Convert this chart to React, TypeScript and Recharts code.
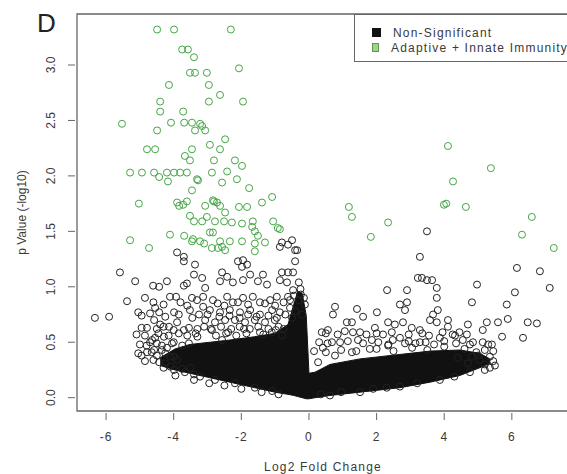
import React from 'react';
import { ComposedChart, Scatter, Area, XAxis, YAxis, ReferenceArea, Legend } from 'recharts';

// [log2 fold change, -log10 p]
const immuneLeft: [number, number][] = [
  [-4.49, 3.32], [-3.99, 3.32], [-2.31, 3.32], [-3.75, 3.14], [-3.58, 3.14], [-3.4, 3.07], [-3.52, 2.93],
  [-3.37, 2.93], [-3.02, 2.93], [-2.07, 2.97], [-4.14, 2.82], [-2.96, 2.82], [-2.63, 2.73], [-4.4, 2.67],
  [-2.96, 2.67], [-1.95, 2.67], [-4.4, 2.58], [-3.72, 2.58], [-5.53, 2.47], [-4.49, 2.41], [-4.08, 2.48],
  [-3.69, 2.48], [-3.46, 2.48], [-3.22, 2.47], [-3.37, 2.41], [-3.07, 2.41], [-3.16, 2.45], [-2.48, 2.33],
  [-2.93, 2.28], [-2.63, 2.24], [-4.79, 2.24], [-4.55, 2.24], [-3.46, 2.24], [-3.67, 2.18], [-3.52, 2.14],
  [-2.81, 2.14], [-2.19, 2.14], [-1.98, 2.09], [-5.29, 2.03], [-4.94, 2.03], [-4.58, 2.03], [-4.43, 1.99],
  [-4.2, 2.03], [-3.99, 2.03], [-3.81, 2.03], [-3.61, 2.03], [-4.17, 1.95], [-3.31, 1.97], [-2.87, 2.03],
  [-2.42, 2.04], [-2.13, 1.97], [-2.57, 1.94], [-1.77, 1.89], [-3.46, 1.87], [-5.03, 1.75], [-3.84, 1.73],
  [-3.61, 1.77], [-3.07, 1.73], [-2.81, 1.77], [-2.63, 1.73], [-2.07, 1.72], [-2.84, 1.78], [-2.72, 1.76],
  [-1.83, 1.72], [-1.39, 1.76], [-1.09, 1.81], [-3.52, 1.64], [-2.48, 1.67], [-3.02, 1.63], [-3.4, 1.59],
  [-3.16, 1.59], [-2.78, 1.59], [-2.51, 1.59], [-2.28, 1.58], [-1.98, 1.57], [-1.66, 1.59], [-1.06, 1.59],
  [-0.86, 1.52], [-1.68, 1.54], [-1.6, 1.5], [-5.29, 1.42], [-4.73, 1.35], [-4.11, 1.47], [-3.69, 1.46],
  [-3.46, 1.41], [-2.93, 1.49], [-3.1, 1.39], [-2.63, 1.41], [-2.57, 1.36], [-2.34, 1.41], [-1.98, 1.41],
  [-1.51, 1.46], [-1.6, 1.39], [-2.87, 1.35], [-2.69, 1.35], [-2.48, 1.33], [-1.3, 1.4], [-1.6, 1.32],
  [-3.9, 1.76], [-3.72, 1.74], [-3.22, 1.41], [-3.43, 1.43], [-2.84, 1.49], [-0.92, 1.53], [-3.28, 1.96],
];

const immuneRight: [number, number][] = [
  [4.11, 2.27], [5.38, 2.07], [4.26, 1.95], [3.99, 1.74], [4.06, 1.75], [4.64, 1.72], [1.18, 1.72],
  [1.27, 1.63], [2.34, 1.58], [1.83, 1.45], [6.59, 1.63], [6.3, 1.47], [7.24, 1.35],
];

const nsLeft: [number, number][] = [
  [-5.59, 1.13], [-5.14, 1.05], [-4.61, 1.01], [-4.43, 1.0], [-4.2, 1.05], [-3.7, 1.01], [-3.61, 1.03],
  [-5.38, 0.87], [-4.85, 0.9], [-4.11, 0.91], [-3.93, 0.91], [-3.46, 0.9], [-3.31, 0.88], [-3.4, 1.11],
  [-3.37, 1.2], [-3.7, 1.27], [-3.7, 1.23], [-3.9, 1.31], [-6.33, 0.72], [-5.91, 0.73], [-5.05, 0.77],
  [-4.55, 0.81], [-4.43, 0.77], [-3.99, 0.77], [-3.52, 0.79], [-3.25, 0.75], [-4.58, 0.7], [-4.4, 0.66],
  [-4.14, 0.64], [-3.9, 0.68], [-3.7, 0.61], [-4.55, 0.54], [-4.29, 0.55], [-4.7, 0.5], [-4.58, 0.43],
  [-4.79, 0.41], [-4.35, 0.43], [-4.2, 0.45], [-4.43, 0.32], [-3.99, 0.37], [-3.9, 0.34], [-3.99, 0.25],
  [-3.4, 0.21], [-4.79, 0.63], [-4.64, 0.52],
  [-3.16, 1.08], [-3.07, 0.99], [-2.63, 1.05], [-2.42, 1.09], [-2.25, 1.04], [-1.95, 1.06], [-1.74, 1.11],
  [-1.51, 1.05], [-1.36, 1.11], [-1.24, 1.02], [-0.86, 1.06], [-0.65, 1.04], [-0.8, 1.13], [-0.62, 1.13],
  [-0.41, 1.23], [-0.47, 1.13], [-0.8, 1.4], [-0.62, 1.38], [-0.5, 1.42], [-0.35, 1.33], [-2.1, 1.23],
  [-1.95, 1.24], [-1.98, 1.18], [-1.83, 1.2], [-2.57, 1.13], [-3.13, 0.91], [-2.84, 0.88], [-2.42, 0.91],
  [-2.25, 0.86], [-1.95, 0.9], [-1.66, 0.91], [-1.45, 0.86], [-1.15, 0.88], [-0.95, 0.91], [-0.62, 0.91],
  [-2.93, 0.79], [-2.63, 0.77], [-2.34, 0.79], [-2.04, 0.77], [-1.74, 0.79], [-1.45, 0.75], [-1.09, 0.79],
  [-0.86, 0.77], [-0.56, 0.81], [-3.07, 0.7], [-2.78, 0.68], [-2.48, 0.7], [-2.19, 0.7], [-1.89, 0.68],
  [-1.6, 0.7], [-1.3, 0.68], [-1.01, 0.7], [-3.13, 0.82], [-0.86, 1.36], [-0.41, 1.33],
];

const nsRight: [number, number][] = [
  [2.31, 0.97], [2.9, 0.97], [3.34, 1.08], [3.49, 1.06], [3.78, 0.99], [3.28, 1.27], [3.49, 1.5],
  [3.22, 1.08], [3.64, 1.06], [0.77, 0.82], [0.71, 0.75], [1.42, 0.8], [1.6, 0.73], [2.01, 0.77],
  [2.69, 0.84], [2.9, 0.86], [2.84, 0.79], [1.12, 0.68], [1.27, 0.68], [0.38, 0.59], [0.56, 0.61],
  [1.06, 0.6], [1.51, 0.59], [1.95, 0.63], [2.34, 0.68], [2.54, 0.66], [2.19, 0.57], [2.78, 0.68],
  [3.04, 0.63], [3.28, 0.61], [3.67, 0.75], [3.78, 0.68], [2.48, 0.52], [2.69, 0.54], [0.41, 0.45],
  [0.68, 0.5], [0.92, 0.5], [1.86, 0.52], [1.45, 0.52], [6.15, 1.17], [6.83, 1.14], [7.12, 0.99],
  [4.97, 1.02], [6.09, 0.95], [4.82, 0.86], [5.85, 0.84], [3.78, 0.9], [3.81, 0.79], [5.88, 0.71],
  [6.47, 0.68], [6.74, 0.67], [5.59, 0.68], [5.26, 0.68], [5.14, 0.61], [4.7, 0.66], [4.11, 0.7],
  [3.58, 0.7], [5.71, 0.55], [6.33, 0.54], [5.41, 0.48], [5.14, 0.5], [4.67, 0.57], [4.55, 0.52],
  [4.11, 0.64], [5.2, 0.43], [4.82, 0.37], [5.05, 0.34], [5.2, 0.3],
];

// crowded band of overlapping circles just around the solid mass
const nsBand: [number, number][] = [
  [-4.6, 0.86], [-4.3, 0.84], [-3.8, 0.86], [-3.6, 0.83], [-2.7, 0.85], [-2.5, 0.83], [-2.1, 0.86],
  [-1.8, 0.84], [-1.3, 0.85], [-1.0, 0.83], [-0.75, 0.86],
  [-4.95, 0.74], [-4.7, 0.76], [-4.25, 0.73], [-3.85, 0.75], [-3.45, 0.72], [-3.0, 0.75], [-2.65, 0.73],
  [-2.35, 0.74], [-2.05, 0.72], [-1.8, 0.75], [-1.55, 0.73], [-1.2, 0.74], [-0.95, 0.72], [-0.7, 0.75],
  [-4.95, 0.63], [-4.5, 0.62], [-4.3, 0.64], [-4.0, 0.61], [-3.55, 0.63], [-3.3, 0.62], [-3.1, 0.64],
  [-2.9, 0.62], [-2.6, 0.64], [-2.3, 0.62], [-2.05, 0.64], [-1.75, 0.62], [-1.5, 0.64], [-1.2, 0.62],
  [-0.9, 0.64], [-0.75, 0.62],
  [-5.1, 0.57], [-4.85, 0.56], [-4.45, 0.58], [-4.15, 0.56], [-3.85, 0.58], [-3.6, 0.56], [-3.35, 0.58],
  [-2.75, 0.56], [-2.45, 0.58], [-2.15, 0.56], [-1.85, 0.58], [-1.35, 0.57], [-1.1, 0.59], [-0.8, 0.56],
  [-5.0, 0.48], [-4.8, 0.47], [-4.5, 0.49], [-4.35, 0.47], [-4.05, 0.49], [-3.75, 0.47], [-3.55, 0.49],
  [-5.05, 0.4], [-4.95, 0.38], [-4.65, 0.41], [-4.5, 0.38], [-4.25, 0.4], [-4.1, 0.37],
  [-4.85, 0.33], [-4.6, 0.34], [-4.25, 0.31], [-4.3, 0.27], [-4.1, 0.28], [-3.75, 0.26], [-3.5, 0.27],
  [-3.95, 0.2], [-3.4, 0.16], [-2.95, 0.13], [-2.5, 0.11], [-2.0, 0.08], [-1.4, 0.05], [-0.9, 0.03],
  [-0.25, 0.98], [-0.15, 0.9], [-0.3, 0.88], [-0.4, 0.78], [-0.5, 0.72], [-0.2, 0.75], [-0.45, 0.92],
  [0.5, 0.58], [0.85, 0.57], [1.3, 0.59], [1.7, 0.57], [2.0, 0.58], [2.45, 0.59], [2.95, 0.57],
  [3.35, 0.58], [3.55, 0.56], [3.95, 0.59], [4.25, 0.57], [4.45, 0.59],
  [0.3, 0.5], [0.55, 0.49], [1.15, 0.51], [1.6, 0.49], [2.05, 0.5], [2.35, 0.48], [2.95, 0.51],
  [3.15, 0.49], [3.45, 0.5], [3.7, 0.48], [4.0, 0.51], [4.35, 0.49], [4.85, 0.5], [5.3, 0.48],
  [0.15, 0.42], [0.5, 0.41], [0.95, 0.43], [1.4, 0.42], [2.0, 0.44], [2.5, 0.42], [3.05, 0.45],
  [3.5, 0.43], [4.0, 0.46], [4.6, 0.44], [4.95, 0.41], [5.45, 0.42],
  [0.35, 0.03], [0.95, 0.05], [1.9, 0.08], [2.3, 0.09], [3.2, 0.13], [4.3, 0.19], [5.2, 0.25], [5.45, 0.33],
  [4.4, 0.36], [4.7, 0.31], [5.0, 0.38], [5.35, 0.27],
];

// circles sitting on the rim of the saturated core
const nsRim: [number, number][] = [
  [-3.67, 0.23], [-3.22, 0.19], [-2.78, 0.16], [-2.19, 0.13], [-1.6, 0.09], [-1.09, 0.06],
  [-2.87, 0.61], [-2.39, 0.59], [-1.92, 0.62], [-1.45, 0.59], [-0.98, 0.61], [-2.57, 0.52], [-3.3, 0.55],
  [-4.0, 0.5], [-0.47, 0.97], [-0.3, 1.04], [-0.24, 0.93], [-0.12, 0.84], [-0.56, 0.88],
  [0.27, 0.32], [0.77, 0.38], [1.27, 0.41], [1.8, 0.44], [2.34, 0.47], [2.84, 0.49], [3.28, 0.5],
  [3.87, 0.54], [4.32, 0.56], [4.76, 0.48], [5.35, 0.37], [5.5, 0.29],
  [0.62, 0.02], [1.51, 0.05], [2.69, 0.1], [3.87, 0.16], [4.76, 0.23],
];

// thousands of overlapping non-significant points merge into a solid mass: [log2FC, low, high]
const nsCore: [number, number, number][] = [
  [-4.4, 0.29, 0.36], [-3.96, 0.25, 0.44], [-3.52, 0.22, 0.48], [-2.93, 0.18, 0.5], [-2.34, 0.14, 0.52],
  [-1.6, 0.09, 0.55], [-1.01, 0.05, 0.58], [-0.62, 0.03, 0.66], [-0.45, 0.02, 0.84], [-0.33, 0.01, 0.96],
  [-0.2, 0.0, 0.94], [-0.08, -0.01, 0.74], [0.0, -0.01, 0.22], [0.18, 0.0, 0.23], [0.62, 0.02, 0.3],
  [1.51, 0.05, 0.35], [2.69, 0.09, 0.39], [3.58, 0.14, 0.42], [4.46, 0.2, 0.43], [5.05, 0.27, 0.4],
  [5.35, 0.31, 0.35],
];

const xDomain = [-6.86, 7.69];
const yDomain = [-0.12, 3.46];
const xTicks = [-6, -4, -2, 0, 2, 4, 6];
const yTicks = [0, 0.5, 1, 1.5, 2, 2.5, 3];

const FONT = '"Liberation Sans", Arial, Helvetica, sans-serif';
const INK = '#3a3a3a';
const GREEN = '#45a545';

const toPts = (a: [number, number][]) => a.map(([x, y]) => ({ x, y }));
const coreData = nsCore.map(([x, lo, hi]) => ({ x, band: [lo, hi] }));

const ring = (color: string) => (p: any) => (
  <circle cx={p.cx} cy={p.cy} r={3.5} fill="none" stroke={color} strokeWidth={1} />
);

const XTick = (p: any) => (
  <g>
    <line x1={p.x} x2={p.x} y1={p.y + 2} y2={p.y + 9} stroke="#666" />
    <text x={p.x} y={p.y + 26} textAnchor="middle" dominantBaseline="central" fontSize={12} fill={INK} letterSpacing={1}>
      {p.payload.value}
    </text>
  </g>
);

const YTick = (p: any) => (
  <g>
    <line x1={p.x - 9} x2={p.x - 2} y1={p.y} y2={p.y} stroke="#666" />
    <text
      x={p.x - 26}
      y={p.y}
      transform={`rotate(-90, ${p.x - 26}, ${p.y})`}
      textAnchor="middle"
      dominantBaseline="central"
      fontSize={12}
      fill={INK}
    >
      {p.payload.value.toFixed(1)}
    </text>
  </g>
);

const XLabel = (p: any) => {
  const vb = p.viewBox;
  return (
    <text x={vb.x + vb.width / 2} y={vb.y + 56} textAnchor="middle" dominantBaseline="central" fontSize={12} fill={INK} letterSpacing={1.2}>
      Log2 Fold Change
    </text>
  );
};

const YLabel = (p: any) => {
  const vb = p.viewBox;
  const cy = vb.y + vb.height / 2;
  return (
    <text x={22} y={cy} transform={`rotate(-90, 22, ${cy})`} textAnchor="middle" dominantBaseline="central" fontSize={12} fill={INK}>
      p Value (-log10)
    </text>
  );
};

const LegendBox = () => (
  <div
    style={{
      width: 215,
      height: 48,
      boxSizing: 'border-box',
      border: '1px solid #666',
      background: '#fff',
      paddingTop: 10,
      paddingLeft: 17,
      fontFamily: FONT,
      fontSize: 12,
      color: INK,
      letterSpacing: 1.2,
      whiteSpace: 'nowrap',
    }}
  >
    {[
      { name: 'Non-Significant', fill: '#111', border: '#111' },
      { name: 'Adaptive + Innate Immunity', fill: '#a4d08a', border: '#5d9a4d' },
    ].map((row) => (
      <div key={row.name} style={{ display: 'flex', alignItems: 'center', height: 15 }}>
        <span style={{ width: 9, height: 9, boxSizing: 'border-box', background: row.fill, border: `1px solid ${row.border}`, marginRight: 12 }} />
        <span>{row.name}</span>
      </div>
    ))}
  </div>
);

export default function App() {
  return (
    <div style={{ position: 'fixed', left: 0, top: 0, width: 567, height: 474, overflow: 'hidden', background: '#fff', fontFamily: FONT }}>
      <div style={{ position: 'absolute', left: 37, top: 10, fontSize: 26, lineHeight: '26px', color: '#222' }}>D</div>
      <ComposedChart width={600} height={474} data={coreData} margin={{ top: 14, right: 31, bottom: 0, left: 0 }}>
        <XAxis
          dataKey="x"
          type="number"
          domain={xDomain}
          ticks={xTicks}
          allowDataOverflow
          axisLine={false}
          tickLine={false}
          tickSize={0}
          tickMargin={0}
          height={63}
          tick={<XTick />}
          label={XLabel}
        />
        <YAxis
          dataKey="y"
          type="number"
          domain={yDomain}
          ticks={yTicks}
          allowDataOverflow
          axisLine={false}
          tickLine={false}
          tickSize={0}
          tickMargin={0}
          width={77}
          tick={<YTick />}
          label={YLabel}
        />
        <Area dataKey="band" type="linear" stroke="#111" strokeWidth={1} fill="#111" fillOpacity={1} dot={false} activeDot={false} isAnimationActive={false} />
        <Scatter name="Non-Significant" data={toPts(nsRim)} shape={ring('#222')} isAnimationActive={false} />
        <Scatter name="Non-Significant" data={toPts(nsBand)} shape={ring('#222')} isAnimationActive={false} />
        <Scatter name="Non-Significant" data={toPts(nsLeft)} shape={ring('#222')} isAnimationActive={false} />
        <Scatter name="Non-Significant" data={toPts(nsRight)} shape={ring('#222')} isAnimationActive={false} />
        <Scatter name="Adaptive + Innate Immunity" data={toPts(immuneLeft)} shape={ring(GREEN)} isAnimationActive={false} />
        <Scatter name="Adaptive + Innate Immunity" data={toPts(immuneRight)} shape={ring(GREEN)} isAnimationActive={false} />
        <ReferenceArea x1={xDomain[0]} x2={xDomain[1]} y1={yDomain[0]} y2={yDomain[1]} fill="none" stroke="#666" strokeWidth={1.3} ifOverflow="visible" />
        <Legend
          layout="vertical"
          align="center"
          verticalAlign="middle"
          wrapperStyle={{ left: 354, top: 14, width: 215 }}
          content={<LegendBox />}
        />
      </ComposedChart>
    </div>
  );
}
